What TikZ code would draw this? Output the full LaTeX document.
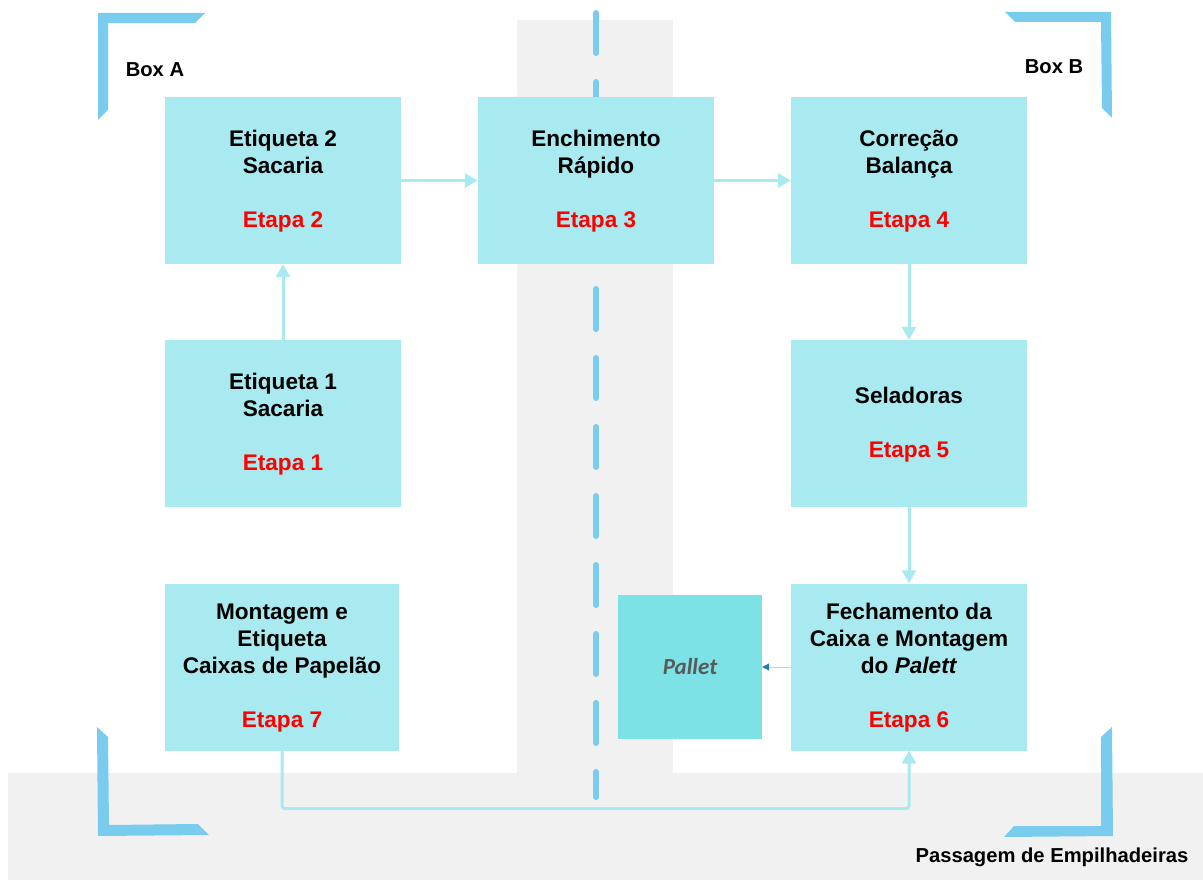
\documentclass[tikz,border=0pt]{standalone}
\usepackage{fontspec}
\setmainfont{Liberation Sans}
\newfontfamily\palfont{Carlito}
\usetikzlibrary{arrows.meta}

\definecolor{boxc}{HTML}{A8EAEF}
\definecolor{palc}{HTML}{7DE2E6}
\definecolor{lanec}{HTML}{79CCEE}
\definecolor{floorc}{HTML}{F1F1F1}
\definecolor{tipc}{HTML}{1F7BBE}

\tikzset{
  stage/.style={fill=boxc, inner sep=0pt, minimum width=236pt, minimum height=167pt,
    align=center, text depth=3pt, font=\bfseries\fontsize{22.6}{27}\selectfont},
  flow/.style={draw=boxc, line width=3pt, -{Triangle[width=14pt,length=13pt,fill=boxc]}},
  tag/.style={font=\bfseries\fontsize{20.2}{24}\selectfont},
  corner/.style={fill=lanec, draw=none}
}
\newcommand{\etapa}[1]{\\[27pt]\textcolor{red}{Etapa #1}}

\begin{document}
\begin{tikzpicture}[x=1pt,y=-1pt]
			\useasboundingbox (0,0) rectangle (1203,880);
			% floor areas
			\fill[floorc] (517,20) rectangle (673,773);
			\fill[floorc] (8,773) rectangle (1203,880);
			\draw[lanec, line width=6pt, line cap=round, dash pattern=on 40pt off 29pt]
				(596,13) -- (596,797);
			% box corners
			\fill[corner] (98,13) -- (205,13) -- (195,23) -- (108,23) -- (108,110) -- (98,120) -- cycle;
			\fill[corner] (1005,12) -- (1111,12) -- (1112,118) -- (1102,108) -- (1101,22) -- (1015,22) -- cycle;
			\fill[corner] (97,727) -- (108,737) -- (109,825) -- (198,824) -- (209,835) -- (98,836) -- cycle;
			\fill[corner] (1112,727) -- (1113,836) -- (1004,837) -- (1014,826) -- (1101,826) -- (1101,737) -- cycle;
			\node[tag] (boxa) at (155,70) {Box A};
			\node[tag] (boxb) at (1054,67) {Box B};
			\node[tag] (pass) at (1052,857) {Passagem de Empilhadeiras};
			% stages
			\node[stage] (e2) at (283,180.5) {Etiqueta 2\\Sacaria\etapa{2}};
			\node[stage] (enc) at (596,180.5) {Enchimento\\Rápido\etapa{3}};
			\node[stage] (cor) at (909,180.5) {Correção\\Balança\etapa{4}};
			\node[stage] (e1) at (283,423.5) {Etiqueta 1\\Sacaria\etapa{1}};
			\node[stage] (sel) at (909,423.5) {Seladoras\etapa{5}};
			\node[stage, minimum width=234pt] (mont) at (282,667) {Montagem e\\Etiqueta\\Caixas de Papelão\etapa{7}};
			\node[stage] (fech) at (909,667) {Fechamento da\\Caixa e Montagem\\do \textit{Palett}\etapa{6}};
			\node[fill=palc, inner sep=0pt, minimum size=144pt, text=black!65,
				font=\palfont\bfseries\itshape\fontsize{23}{27}\selectfont] (pallet) at (690,667) {Pallet};
			% flow
			\draw[flow] (e1) -- (e2);
			\draw[flow] (e2) -- (enc);
			\draw[flow] (enc) -- (cor);
			\draw[flow] (cor) -- (sel);
			\draw[flow] (sel) -- (fech);
			\draw[flow, rounded corners=3pt] (mont.south) -- ++(0,58) -| (fech.south);
			\draw[draw=boxc!80!lanec, line width=1pt, -{Triangle[width=7pt,length=7pt,color=tipc]}]
				(fech.west) -- (pallet.east);
		\end{tikzpicture}
\end{document}
